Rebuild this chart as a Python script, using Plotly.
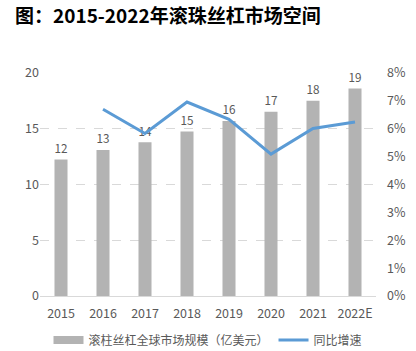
import plotly.graph_objects as go

years = ["2015", "2016", "2017", "2018", "2019", "2020", "2021", "2022E"]
market_size = [12.25, 13.1, 13.8, 14.75, 15.7, 16.52, 17.52, 18.6]
growth = [None, 0.067, 0.0583, 0.0696, 0.0634, 0.0509, 0.0601, 0.0624]

bar_name = "滚柱丝杠全球市场规模（亿美元）"
line_name = "同比增速"
title = "图：2015-2022年滚珠丝杠市场空间"

FONT = "Noto Sans CJK SC"
GRAY_TXT = "#595959"
BAR_C = "#b3b3b3"
LINE_C = "#5b9bd5"

fig = go.Figure()
fig.add_trace(go.Bar(
    x=years, y=market_size, marker=dict(color=BAR_C, line=dict(width=0)),
    text=market_size, texttemplate="%{y:.0f}", textposition="outside",
    textfont=dict(size=13, color=GRAY_TXT, family=FONT),
    cliponaxis=False, showlegend=False, name=bar_name,
))
fig.add_trace(go.Scatter(
    x=years, y=growth, yaxis="y2", mode="lines",
    line=dict(color=LINE_C, width=3), showlegend=False, name=line_name,
))
# legend entries
fig.add_trace(go.Scatter(x=[None], y=[None], mode="lines",
                         line=dict(color=BAR_C, width=8), name=bar_name))
fig.add_trace(go.Scatter(x=[None], y=[None], mode="lines",
                         line=dict(color=LINE_C, width=3), name=line_name))

fig.update_layout(
    width=416, height=351,
    margin=dict(l=40, r=40, t=73, b=55, autoexpand=False),
    paper_bgcolor="white", plot_bgcolor="white",
    font=dict(family=FONT, color=GRAY_TXT, size=12),
    bargap=0.69,
    title=dict(text="<b>" + title + "</b>", x=15/416, xref="container", xanchor="left",
               y=1 - 16/351, yref="container", yanchor="middle",
               font=dict(size=19, color="#000000", family=FONT)),
    xaxis=dict(type="category", showline=True, linecolor="#d9d9d9", linewidth=1,
               ticks="", ticklabelstandoff=6,
               tickfont=dict(size=12.5, color=GRAY_TXT)),
    yaxis=dict(range=[0, 20], dtick=5, showgrid=True, gridcolor="#d9d9d9",
               griddash="dash", gridwidth=1, zeroline=False, ticks="",
               tickfont=dict(size=12.5, color=GRAY_TXT)),
    yaxis2=dict(range=[0, 0.08], dtick=0.01, tickformat=".0%", overlaying="y",
                side="right", showgrid=False, zeroline=False, ticks="",
                ticklabelstandoff=10,
                tickfont=dict(size=12.5, color=GRAY_TXT)),
    legend=dict(orientation="h", x=0.5, xanchor="center",
                yref="container", y=11/351, yanchor="middle",
                font=dict(size=12, color=GRAY_TXT, family=FONT), itemwidth=30,
                bgcolor="rgba(0,0,0,0)"),
)

fig.write_html("out.html")
